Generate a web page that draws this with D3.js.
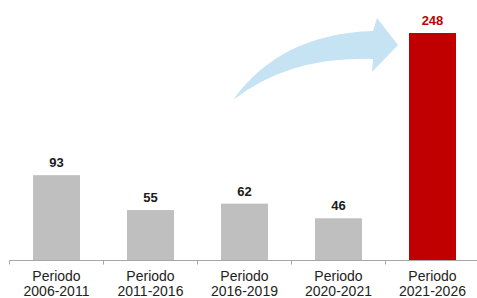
<!DOCTYPE html>
<html><head><meta charset="utf-8">
<script src="https://cdn.jsdelivr.net/npm/d3@7"></script>
<style>body{margin:0;background:#fff}svg{display:block}</style>
</head><body>
<svg id="c" width="477" height="298"></svg>
<script>
const categories = [["Periodo","2006-2011"],["Periodo","2011-2016"],["Periodo","2016-2019"],["Periodo","2020-2021"],["Periodo","2021-2026"]];
const values = [93, 55, 62, 46, 248];
const barColors = ["#bfbfbf","#bfbfbf","#bfbfbf","#bfbfbf","#c00000"];
const labelColors = ["#1a1a1a","#1a1a1a","#1a1a1a","#1a1a1a","#c00000"];

const svg = d3.select("#c");
const baseY = 260.5;
const ids = categories.map((c,i)=>i);
const x = d3.scaleBand().domain(ids).range([9.5, 479.5]).paddingInner(0.5).paddingOuter(0.25);
const y = d3.scaleLinear().domain([0, 248]).range([baseY, 33]);

// arrow
svg.append("path")
  .attr("d","M233,100 Q280,34 373,31 L377,18 L398,45 L372,72 L373,59 Q290,56 233,100 Z")
  .attr("fill","#c5e3f3");

svg.selectAll("rect.bar").data(values).enter().append("rect")
  .attr("x",(d,i)=>x(i)).attr("width",x.bandwidth())
  .attr("y",d=>y(d)).attr("height",d=>baseY-y(d))
  .attr("fill",(d,i)=>barColors[i]);

svg.selectAll("text.val").data(values).enter().append("text")
  .attr("x",(d,i)=>x(i)+x.bandwidth()/2).attr("y",d=>y(d)-8)
  .attr("text-anchor","middle").attr("font-family","Liberation Sans, Arial, sans-serif")
  .attr("font-weight","bold").attr("font-size",13)
  .attr("fill",(d,i)=>labelColors[i]).text(d=>d);

// axis
const axis = d3.axisBottom(x).tickSize(0).tickFormat("");
const g = svg.append("g").attr("transform",`translate(0,${baseY})`).call(axis);
g.select(".domain").attr("stroke","#a6a6a6").attr("d","M9.5,0H477");
const step = x.step();
ids.forEach(i=>{
  const bx = x(i) - step*x.paddingInner()/2;
  g.append("line").attr("x1",bx).attr("x2",bx).attr("y1",0).attr("y2",4).attr("stroke","#a6a6a6");
});

const lab = svg.selectAll("text.cat").data(categories).enter().append("text")
  .attr("text-anchor","middle").attr("font-family","Liberation Sans, Arial, sans-serif")
  .attr("font-size",14).attr("fill","#222");
lab.each(function(c,i){
  const t = d3.select(this);
  const cx = x(i)+x.bandwidth()/2;
  t.append("tspan").attr("x",cx).attr("y",281).text(c[0]);
  t.append("tspan").attr("x",cx).attr("y",296).text(c[1]);
});
</script>
</body></html>
